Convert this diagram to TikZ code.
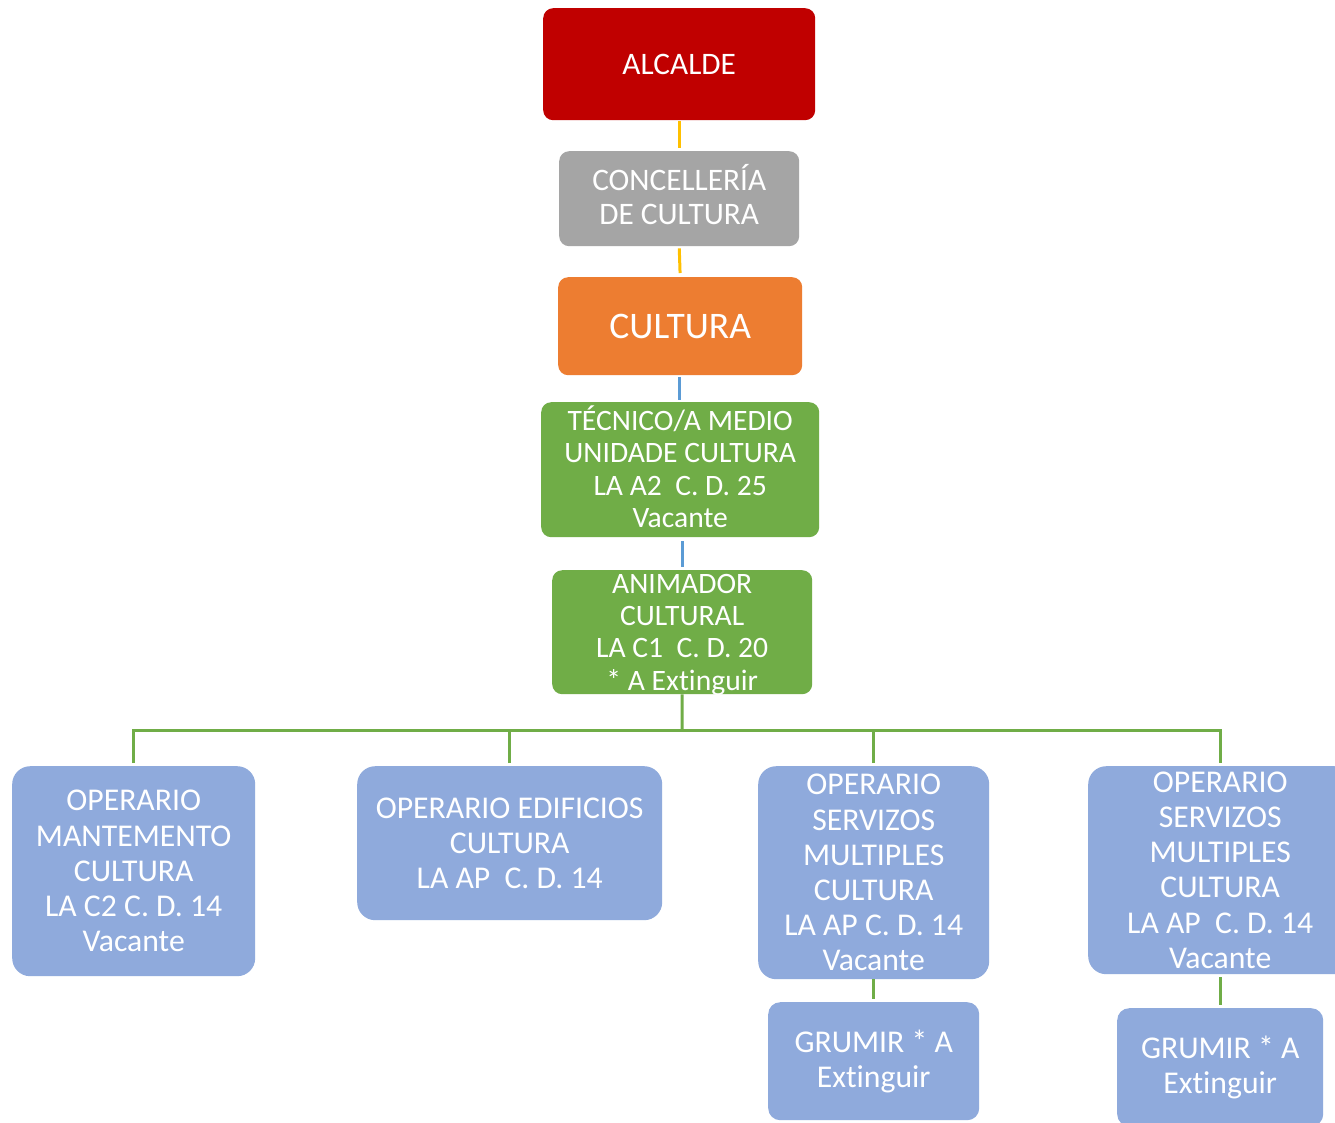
\documentclass[tikz,border=0pt]{standalone}
\usepackage{fontspec}
\setmainfont[Ligatures=NoCommon]{Carlito}
\definecolor{alcred}{HTML}{C00000}
\definecolor{concgray}{HTML}{A5A5A5}
\definecolor{cultorange}{HTML}{ED7D31}
\definecolor{unitgreen}{HTML}{70AD47}
\definecolor{staffblue}{HTML}{8FAADC}
\definecolor{linkyellow}{HTML}{FFC000}
\definecolor{linkblue}{HTML}{5B9BD5}
\begin{document}
\begin{tikzpicture}[x=1pt,y=-1pt,
  box/.style={rectangle, rounded corners=10pt, inner sep=0pt, align=center,
    text=white, anchor=north west},
  topbox/.style={box, font=\fontsize{31.3}{34}\selectfont},
  greenbox/.style={box, fill=unitgreen, font=\fontsize{29.6}{32.3}\selectfont},
  bluebox/.style={box, fill=staffblue, rounded corners=18pt,
    font=\fontsize{31.7}{35.2}\selectfont},
  link/.style={line width=3pt},
  ylink/.style={link, draw=linkyellow},
  blink/.style={link, draw=linkblue},
  glink/.style={link, draw=unitgreen}]
\useasboundingbox (0,0) rectangle (1335,1122);
\fill[white] (0,0) rectangle (1335,1122);
\clip (0,0) rectangle (1335,1122);

% upper chain of command
\node[topbox, fill=alcred, minimum width=272pt, minimum height=112pt] (alc) at (543,8) {ALCALDE};
\node[topbox, fill=concgray, minimum width=240pt, minimum height=95pt] (conc) at (559,151) {CONCELLERÍA\\DE CULTURA\rule[-9pt]{0pt}{1pt}};
\node[topbox, fill=cultorange, minimum width=244pt, minimum height=98pt,
  font=\fontsize{37.5}{40}\selectfont] (cult) at (558,277) {CULTURA};
\node[greenbox, minimum width=278pt, minimum height=135pt] (tec) at (541,402)
  {TÉCNICO/A MEDIO\\UNIDADE CULTURA\\LA A2\ \ C. D. 25\\Vacante\rule[-6pt]{0pt}{1pt}};
\node[greenbox, minimum width=260pt, minimum height=124pt, text depth=0pt] (anim) at (552,570)
  {ANIMADOR\\CULTURAL\\LA C1\ \ C. D. 20\\* A Extinguir};

% staff row
\node[bluebox, minimum width=243pt, minimum height=210pt] (op1) at (12,766)
  {OPERARIO\\MANTEMENTO\\CULTURA\\LA C2 C. D. 14\\Vacante};
\node[bluebox, minimum width=305pt, minimum height=154pt] (op2) at (357,766)
  {OPERARIO EDIFICIOS\\CULTURA\\LA AP\ \ C. D. 14};
\node[bluebox, minimum width=231pt, minimum height=213pt] (op3) at (758,766)
  {OPERARIO\\SERVIZOS\\MULTIPLES\\CULTURA\\LA AP C. D. 14\\Vacante};
\node[bluebox, minimum width=264pt, minimum height=208pt] (op4) at (1088,766)
  {OPERARIO\\SERVIZOS\\MULTIPLES\\CULTURA\\LA AP\ \ C. D. 14\\Vacante};
\node[bluebox, rounded corners=12pt, minimum width=211pt, minimum height=118pt] (gr1) at (768,1002)
  {GRUMIR * A\\Extinguir};
\node[bluebox, rounded corners=12pt, minimum width=206pt, minimum height=118pt] (gr2) at (1117,1008)
  {GRUMIR * A\\Extinguir};

% connectors
\draw[ylink, shorten <=1pt, shorten >=3pt] (alc.south) -- (conc.north);
\draw[ylink, shorten <=2pt, shorten >=4pt] (conc.south) -- (cult.north);
\draw[blink, shorten <=2pt, shorten >=2pt] ([xshift=-1pt]cult.south) -- ([xshift=-1pt]cult.south |- tec.north);
\draw[blink, shorten <=4pt, shorten >=3pt] ([xshift=2pt]tec.south) -- (anim.north);
\coordinate (bus) at (682,730);
\draw[glink] (anim.south) -- (bus);
\draw[glink] ([yshift=3pt]op1.north) |- (bus) -| ([yshift=3pt]op4.north);
\draw[glink] ([yshift=3pt]op2.north) -- (op2.north |- bus);
\draw[glink] ([yshift=3pt]op3.north) -- (op3.north |- bus);
\draw[glink, shorten >=3pt] (op3.south) -- (op3.south |- gr1.north);
\draw[glink, shorten <=3pt, shorten >=3pt] (op4.south) -- (op4.south |- gr2.north);
\end{tikzpicture}
\end{document}
